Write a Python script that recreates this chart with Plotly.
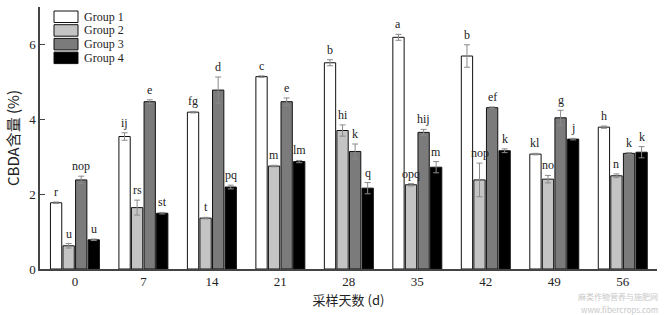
import plotly.graph_objects as go

days = ["0", "7", "14", "21", "28", "35", "42", "49", "56"]
groups = ["Group 1", "Group 2", "Group 3", "Group 4"]

g1 = [1.77, 3.54, 4.19, 5.14, 5.51, 6.19, 5.69, 3.07, 3.79]
g2 = [0.62, 1.64, 1.36, 2.75, 3.70, 2.25, 2.38, 2.40, 2.49]
g3 = [2.38, 4.47, 4.78, 4.47, 3.14, 3.65, 4.31, 4.04, 3.09]
g4 = [0.78, 1.49, 2.19, 2.87, 2.16, 2.72, 3.16, 3.47, 3.12]

e1 = [0.02, 0.10, 0.02, 0.02, 0.08, 0.08, 0.30, 0.02, 0.03]
e2 = [0.06, 0.20, 0.02, 0.02, 0.15, 0.03, 0.45, 0.10, 0.05]
e3 = [0.10, 0.05, 0.35, 0.10, 0.20, 0.08, 0.02, 0.20, 0.02]
e4 = [0.02, 0.02, 0.05, 0.03, 0.15, 0.15, 0.05, 0.02, 0.15]

l1 = ["r", "ij", "fg", "c", "b", "a", "b", "kl", "h"]
l2 = ["u", "rs", "t", "m", "hi", "opq", "nop", "no", "n"]
l3 = ["nop", "e", "d", "e", "k", "hij", "ef", "g", "k"]
l4 = ["u", "st", "pq", "lm", "q", "m", "k", "j", "k"]

watermark = ["麻类作物营养与施肥网", "www.fibercrops.com"]

values = [g1, g2, g3, g4]
errors = [e1, e2, e3, e4]
letters = [l1, l2, l3, l4]
colors = ["#ffffff", "#c4c4c4", "#7b7b7b", "#000000"]
offsets = [-0.275, -0.092, 0.092, 0.275]
bar_w = 0.165

serif = "Liberation Serif"
W, H = 664, 315
ml, mr, mt, mb = 40, 7, 7, 46
pw, ph = W - ml - mr, H - mt - mb

fig = go.Figure()
idx = list(range(len(days)))
for k in range(4):
    xs = [i + offsets[k] for i in idx]
    fig.add_trace(go.Bar(
        x=xs, y=values[k], width=bar_w, name=groups[k], showlegend=False,
        marker=dict(color=colors[k], line=dict(color="#111111", width=1)),
        error_y=dict(type="data", array=errors[k], visible=True,
                     color="#8a8a8a", thickness=1, width=3),
    ))
    for i in idx:
        fig.add_annotation(x=i + offsets[k], y=values[k][i] + errors[k][i],
                           text=letters[k][i], showarrow=False, yanchor="bottom",
                           yshift=1, font=dict(family=serif, size=12, color="#222222"))

# custom legend (boxes + labels) in paper coordinates
for k in range(4):
    top = 11 + k * 13.7
    x0 = (54 - ml) / pw
    x1 = (78 - ml) / pw
    y0 = 1 - (top - mt) / ph
    y1 = 1 - (top + 11.5 - mt) / ph
    fig.add_shape(type="rect", xref="paper", yref="paper", x0=x0, x1=x1, y0=y1, y1=y0,
                  fillcolor=colors[k], line=dict(color="#111111", width=1))
    fig.add_annotation(xref="paper", yref="paper", x=(82 - ml) / pw, y=(y0 + y1) / 2,
                       xanchor="left", yanchor="middle", showarrow=False,
                       text=groups[k], font=dict(family=serif, size=12, color="#222222"))

for txt, yc in zip(watermark, [296.5, 309]):
    fig.add_annotation(xref="paper", yref="paper", x=1.0 + 2 / pw, y=1 - (yc - mt) / ph,
                       xanchor="right", yanchor="middle", showarrow=False, borderpad=0,
                       text=txt, font=dict(family="Noto Sans CJK SC", size=8, color="#c8c8c8"))

fig.update_layout(
    width=W, height=H,
    margin=dict(l=ml, r=mr, t=mt, b=mb),
    paper_bgcolor="white", plot_bgcolor="white",
    barmode="overlay", showlegend=False,
    font=dict(family=serif, size=13, color="#222222"),
    xaxis=dict(range=[-0.51, 8.5], tickmode="array", tickvals=idx, ticktext=days,
               showline=True, linecolor="#444444", linewidth=1.5, ticks="",
               showgrid=False, zeroline=False,
               title=dict(text="采样天数 (d)", font=dict(family="Noto Sans CJK SC", size=13), standoff=8)),
    yaxis=dict(range=[0, 7.0], tickvals=[0, 2, 4, 6], ticks="inside", ticklen=5,
               tickcolor="#444444", showline=True, linecolor="#444444", linewidth=1.5,
               showgrid=False, zeroline=False,
               title=dict(text="CBDA含量 (%)", font=dict(family="Noto Sans CJK SC", size=15), standoff=6)),
)

fig.write_html("out.html")
